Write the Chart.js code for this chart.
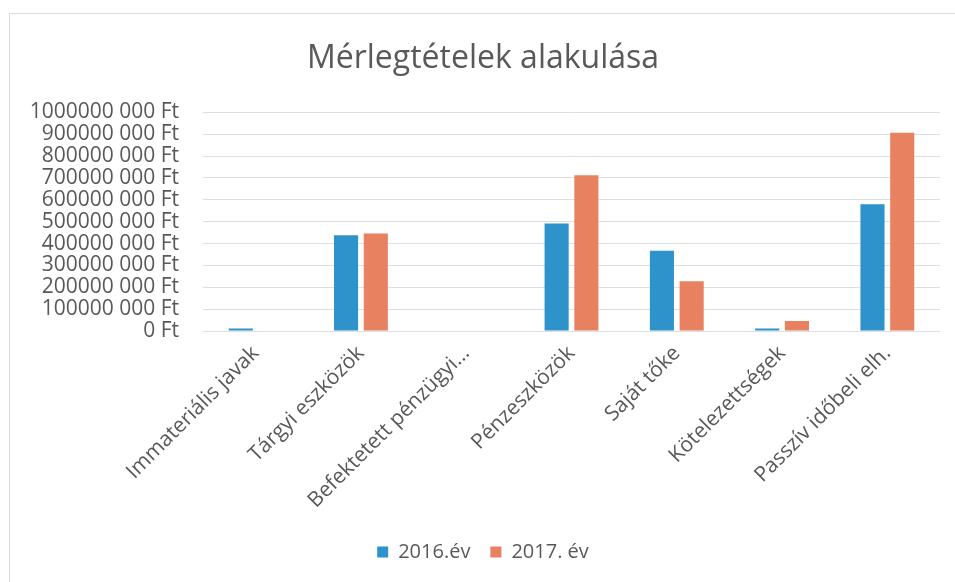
<!DOCTYPE html>
<html lang="hu">
<head>
<meta charset="utf-8">
<title>Mérlegtételek alakulása</title>
<script src="https://cdn.jsdelivr.net/npm/chart.js@4/dist/chart.umd.min.js"></script>
<style>
    html, body { margin: 0; padding: 0; background: #ffffff; }
    #wrap { position: relative; width: 955px; height: 582px; }
    #frame {
        position: absolute; left: 9px; top: 13px; right: 0; bottom: 0;
        border-top: 1px solid #dcdcdc; border-left: 1px solid #dcdcdc;
        pointer-events: none;
    }
</style>
</head>
<body>
<div id="wrap">
    <canvas id="balanceChart" width="955" height="582"></canvas>
    <div id="frame"></div>
</div>
<script>
const categories = [
    "Immateriális javak",
    "Tárgyi eszközök",
    "Befektetett pénzügyi...",
    "Pénzeszközök",
    "Saját tőke",
    "Kötelezettségek",
    "Passzív időbeli elh."
];

const year2016 = [12000000, 438000000, 0, 492000000, 367000000, 12000000, 580000000];
const year2017 = [0, 446000000, 0, 712000000, 228000000, 46000000, 907000000];

const yTickLabels = [
    "0 Ft",
    "100000 000 Ft",
    "200000 000 Ft",
    "300000 000 Ft",
    "400000 000 Ft",
    "500000 000 Ft",
    "600000 000 Ft",
    "700000 000 Ft",
    "800000 000 Ft",
    "900000 000 Ft",
    "1000000 000 Ft"
];

const textColor = "#595959";
const fontFamily = "'Open Sans', sans-serif";

const ctx = document.getElementById("balanceChart").getContext("2d");

new Chart(ctx, {
    type: "bar",
    data: {
        labels: categories,
        datasets: [
            {
                label: "2016.év",
                data: year2016,
                backgroundColor: "#2e92cb",
                categoryPercentage: 0.565,
                barPercentage: 0.81
            },
            {
                label: "2017. év",
                data: year2017,
                backgroundColor: "#e88160",
                categoryPercentage: 0.565,
                barPercentage: 0.81
            }
        ]
    },
    options: {
        responsive: false,
        animation: false,
        // a bit more room on the left than the right, so title and legend sit right of centre
        // (y labels are clipped to the scale box, so the box must still reach past the widest label)
        layout: { padding: { left: 26, right: 15, top: 0, bottom: 10 } },
        plugins: {
            title: {
                display: true,
                text: "Mérlegtételek alakulása",
                color: textColor,
                font: { family: fontFamily, size: 32, weight: "normal" },
                padding: { top: 40, bottom: 34 }
            },
            legend: {
                display: true,
                position: "bottom",
                labels: {
                    color: textColor,
                    font: { family: fontFamily, size: 20 },
                    boxWidth: 11,
                    boxHeight: 11,
                    padding: 20
                }
            },
            tooltip: { enabled: false }
        },
        scales: {
            x: {
                grid: { display: false },
                border: { display: false },
                ticks: {
                    color: textColor,
                    font: { family: fontFamily, size: 21 },
                    minRotation: 45,
                    maxRotation: 45,
                    padding: 2,
                    autoSkip: false
                },
                afterFit: (scale) => { scale.height = 191; }
            },
            y: {
                min: 0,
                max: 1000000000,
                grid: { color: "#dedede", drawTicks: false },
                border: { display: false },
                ticks: {
                    stepSize: 100000000,
                    autoSkip: false,
                    color: textColor,
                    font: { family: fontFamily, size: 21, lineHeight: 1 },
                    padding: 24,
                    callback: (value, index) => yTickLabels[index]
                },
                afterFit: (scale) => { scale.width = 177; }
            }
        }
    }
});
</script>
</body>
</html>
